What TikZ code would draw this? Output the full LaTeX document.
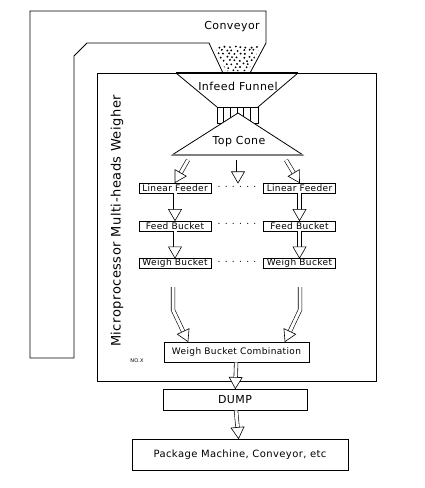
\documentclass[tikz,border=0pt]{standalone}
\usepackage{fontspec}
\setmainfont[LetterSpace=4]{DejaVu Sans}
\usetikzlibrary{shapes.geometric,positioning}

\begin{document}
\begin{tikzpicture}[x=1pt, y=-1pt, line width=0.8pt,
        unit/.style={draw, line width=0.7pt, minimum width=72pt, minimum height=10pt, inner sep=0pt, font=\fontsize{9}{10}\selectfont},
        stage/.style={draw, line width=0.8pt, inner sep=0pt},
        flow/.style={double, double distance=3pt, line width=0.6pt, shorten >=10pt},
        head/.style={regular polygon, regular polygon sides=3, regular polygon rotate=-90, minimum size=15pt,
            inner sep=0pt, outer sep=0pt, anchor=corner 1, draw, fill=white, line width=0.6pt, sloped, allow upside down}]
            \useasboundingbox (0,0) rectangle (424,488);

            % conveyor
            \draw (250,73) -- (266,43) -- (266,11) -- (30,11) -- (30,358) -- (74,358) -- (74,56) -- (87,43) -- (209,43) -- (223,73);
            \node[font=\fontsize{11}{12}\selectfont] (conv) at (232,27) {Conveyor};
            \begin{scope}
                \clip (214,45) -- (261,45) -- (248,71) -- (226,71) -- cycle;
                \pgfmathsetseed{7}
                \foreach \r in {0,...,7}
                    \foreach \c in {0,...,9}
                        \fill ({213+5.5*\c+2.7*mod(\r,2)+1.3*rand}, {47+3.4*\r+0.7*rand}) circle (1.05pt);
            \end{scope}

            % weigher frame
            \draw (97,73) rectangle (376,381);
            \node[rotate=90, font=\fontsize{13}{14}\selectfont] (title) at (117,221) {Microprocessor Multi-heads Weigher};
            \node[font=\fontsize{5}{6}\selectfont] (nox) at (137,361) {NO.X};

            % infeed funnel and top cone
            \draw[line width=1.8pt] (176,73) -- (298,73);
            \draw (176,73) -- (217,107);
            \draw (298,73) -- (258,107);
            \draw (217,107) rectangle (258,123);
            \foreach \x in {223,230,237,243,250}
                \draw (\x,107) -- (\x,123);
            \draw[fill=white] (238,113) -- (172,155) -- (303,155) -- cycle;
            \draw[line width=1.4pt, gray] (172,155) -- (303,155);
            \node[font=\fontsize{11}{12}\selectfont] (funnel) at (238,86) {Infeed Funnel};
            \node[font=\fontsize{11}{12}\selectfont] (cone) at (239,142) {Top Cone};

            % heads
            \node[unit] (lf1) at (175,188) {Linear Feeder};
            \node[unit] (lf2) at (299.5,188) {Linear Feeder};
            \node[unit] (fb1) at (175,226) {Feed Bucket};
            \node[unit] (fb2) at (299.5,226) {Feed Bucket};
            \node[unit] (wb1) at (175,263.5) {Weigh Bucket};
            \node[unit] (wb2) at (299.5,263.5) {Weigh Bucket};
            \node[font=\fontsize{9}{10}\selectfont] (d1) at (237,187) {. . . . . .};
            \node[font=\fontsize{9}{10}\selectfont] (d2) at (237,224) {. . . . . .};
            \node[font=\fontsize{9}{10}\selectfont] (d3) at (237,262) {. . . . . .};

            \node[stage, minimum width=145pt, minimum height=20pt, font=\fontsize{9}{10}\selectfont] (comb) at (236.5,352) {Weigh Bucket Combination};
            \node[stage, minimum width=144pt, minimum height=21pt, font=\fontsize{11}{12}\selectfont] (dump) at (235,399.5) {DUMP};
            \node[stage, minimum width=216pt, minimum height=31pt, font=\fontsize{10}{11}\selectfont] (pack) at (240,454.5) {Package Machine, Conveyor, etc};

            % flow arrows
            \coordinate (c1) at (188,160);
            \coordinate (c2) at (238,160);
            \coordinate (c3) at (286,160);
            \coordinate (c2e) at (238,183);
            \coordinate (b1) at (173,287);
            \coordinate (b2) at (300,287);
            \coordinate (b1e) at (188,0 |- comb.north);
            \coordinate (b2e) at (285,0 |- comb.north);
            \draw[flow] (c1) -- (lf1.north);
            \draw[flow] (c2) -- (c2e);
            \draw[flow] (c3) -- (lf2.north);
            \draw[flow] (lf1) -- (fb1);
            \draw[flow] (lf2) -- (fb2);
            \draw[flow] (fb1) -- (wb1);
            \draw[flow] (fb2) -- (wb2);
            \draw[flow] (b1) -- ++(0,23) -- (b1e);
            \draw[flow] (b2) -- ++(0,23) -- (b2e);
            \draw[flow] (comb) -- (dump);
            \draw[flow] (dump) -- (pack);

            % arrow heads
            \path (c1) -- node[head, pos=1] (h1) {} (lf1.north);
            \path (c2) -- node[head, pos=1] (h2) {} (c2e);
            \path (c3) -- node[head, pos=1] (h3) {} (lf2.north);
            \path (lf1) -- node[head, pos=1] (h4) {} (fb1);
            \path (lf2) -- node[head, pos=1] (h5) {} (fb2);
            \path (fb1) -- node[head, pos=1] (h6) {} (wb1);
            \path (fb2) -- node[head, pos=1] (h7) {} (wb2);
            \path (b1) ++(0,23) -- node[head, pos=1] (h8) {} (b1e);
            \path (b2) ++(0,23) -- node[head, pos=1] (h9) {} (b2e);
            \path (comb) -- node[head, pos=1] (h10) {} (dump);
            \path (dump) -- node[head, pos=1] (h11) {} (pack);

        \end{tikzpicture}
\end{document}
